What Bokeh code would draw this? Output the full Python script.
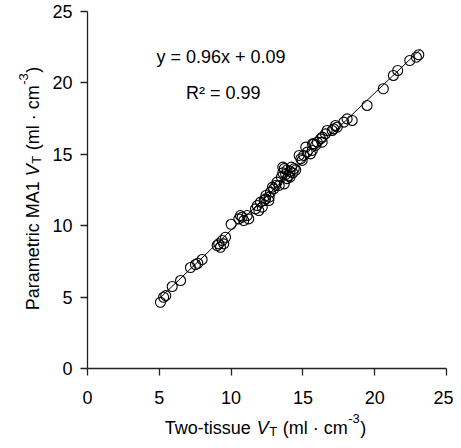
import math
from bokeh.plotting import figure
from bokeh.models import Range1d, Label, FixedTicker
from bokeh.embed import file_html
from bokeh.resources import INLINE

# ---- data ----
two_tissue_vt = [5.08, 5.30, 5.45, 5.90, 6.48, 7.17, 7.52, 7.68, 7.98,
                 9.03, 9.14, 9.26, 9.49, 9.38, 9.61, 10.00,
                 10.54, 10.65, 10.77, 10.88, 11.12, 11.23,
                 11.70, 11.82, 11.93, 12.05, 12.17,
                 12.30, 12.40, 12.42, 12.63, 12.65, 12.74, 12.88, 12.97, 13.11, 13.20, 13.35, 13.70,
                 13.50, 13.60, 13.70, 13.80, 13.90, 14.00, 14.10, 14.20, 14.30, 14.40, 14.50, 14.10, 13.60, 13.90,
                 14.74, 14.85, 14.95, 15.06, 15.20, 15.30, 15.53, 15.65, 15.67, 15.76, 15.88, 16.00,
                 16.23, 16.34, 16.36, 16.57, 16.69, 17.04, 17.15, 17.27, 17.39, 17.85, 18.08, 18.43,
                 19.47, 20.60, 21.30, 21.60, 22.44, 22.90, 23.07]
parametric_vt = [4.64, 4.99, 5.10, 5.74, 6.16, 7.07, 7.28, 7.37, 7.63,
                 8.61, 8.73, 8.49, 8.73, 8.96, 9.19, 10.10,
                 10.48, 10.71, 10.60, 10.36, 10.71, 10.48,
                 11.18, 11.41, 11.06, 11.65, 11.30,
                 11.76, 11.88, 12.11, 11.76, 12.00, 12.35, 12.70, 12.58, 12.82, 13.05, 12.82, 12.93,
                 13.40, 13.70, 14.00, 13.60, 13.90, 13.50, 13.80, 14.10, 13.70, 14.00, 13.90, 13.40, 14.10, 13.30,
                 14.92, 14.68, 14.57, 14.92, 15.50, 15.15, 15.03, 15.27, 15.73, 15.73, 15.62, 15.85,
                 16.08, 15.85, 16.20, 16.43, 16.67, 16.67, 16.78, 17.02, 16.90, 17.25, 17.48, 17.37,
                 18.42, 19.59, 20.52, 20.87, 21.57, 21.80, 21.97]
fit_slope = 0.96
fit_intercept = 0.09
fit_x = [5.0, 23.2]
fit_y = [fit_slope * v + fit_intercept for v in fit_x]
ticks = [0, 5, 10, 15, 20, 25]
axis_min, axis_max = 0, 25
eq_text = "y = 0.96x + 0.09"
r2_text = "R\u00b2 = 0.99"

FONT = "Liberation Sans"
W_PX, H_PX = 453, 440
# frame spans whole canvas; axes are fixed at data 0 and bounded to 0..25
LEFT, RIGHT, TOP, BOTTOM = 87, 446, 11, 368   # pixel positions of 0 and 25
sx = (RIGHT - LEFT) / (axis_max - axis_min)
sy = (BOTTOM - TOP) / (axis_max - axis_min)
x_range = Range1d(-LEFT / sx, axis_max + (W_PX - RIGHT) / sx)
y_range = Range1d(-(H_PX - BOTTOM) / sy, axis_max + TOP / sy)

p = figure(width=W_PX, height=H_PX, output_backend="svg", toolbar_location=None,
           x_range=x_range, y_range=y_range,
           min_border_left=0, min_border_right=0, min_border_top=0, min_border_bottom=0)
p.outline_line_color = None
p.xgrid.visible = False
p.ygrid.visible = False
p.background_fill_color = "white"
p.border_fill_color = "white"

for ax in (p.xaxis[0], p.yaxis[0]):
    ax.fixed_location = 0
    ax.bounds = (axis_min, axis_max)
    ax.ticker = FixedTicker(ticks=ticks)
    ax.major_tick_in = 0
    ax.major_tick_out = 7
    ax.minor_tick_out = 0
    ax.minor_tick_in = 0
    ax.axis_line_color = "#222222"
    ax.axis_line_width = 1.3
    ax.major_tick_line_color = "#222222"
    ax.major_tick_line_width = 1.3
    ax.major_label_text_font = FONT
    ax.major_label_text_font_size = "18px"
    ax.major_label_text_color = "black"
p.xaxis.major_label_standoff = 15
p.yaxis.major_label_standoff = 8

p.line(fit_x, fit_y, line_color="black", line_width=1)
p.scatter(two_tissue_vt, parametric_vt, marker="circle", size=10,
          fill_color=None, line_color="black", line_width=1.1)

p.add_layout(Label(x=9.3, y=21.78, text=eq_text, text_align="center", text_baseline="alphabetic",
                   text_font=FONT, text_font_size="18px", text_color="black"))
p.add_layout(Label(x=9.45, y=19.26, text=r2_text, text_align="center", text_baseline="alphabetic",
                   text_font=FONT, text_font_size="18px", text_color="black"))

# ---- axis titles composed of pieces (italic V, subscript T, superscript -3) ----
W = {" ": 278, "(": 333, ")": 333, "-": 333, "\u00b7": 278, "1": 556, "3": 556,
     "A": 667, "M": 833, "P": 667, "T": 611, "V": 667, "a": 556, "c": 500,
     "e": 556, "i": 222, "l": 222, "m": 833, "o": 556, "r": 333, "s": 500,
     "t": 278, "u": 556, "w": 722}
SPACE = 278 * 18 / 1000.0


def tw(s, size):
    return sum(W.get(c, 556) for c in s) * size / 1000.0


def title_pieces(lead):
    # (text, font px, style, baseline shift, gap before)
    return [(lead, 18, "normal", 0, 0), ("V", 18, "italic", 0, SPACE),
            ("T", 13, "normal", -4, 0.5), ("(ml \u00b7 cm", 18, "normal", 0, SPACE + 0.5),
            ("-3", 13, "normal", 9, 1.5), (")", 18, "normal", 0, 0.5)]


# x title: horizontal, baseline at canvas y = 427
pieces = title_pieces("Two-tissue")
total = sum(tw(s, f) + g for s, f, _, _, g in pieces)
pos = 265 - total / 2
base = H_PX - 427
for s, f, style, dy, g in pieces:
    pos += g
    p.add_layout(Label(x=pos, y=base + dy, x_units="screen", y_units="screen", text=s,
                       text_font=FONT, text_font_size=f"{f}px", text_font_style=style,
                       text_baseline="alphabetic", text_align="left", text_color="black"))
    pos += tw(s, f)

# y title: rotated, baseline at canvas x = 32
pieces = title_pieces("Parametric MA1")
total = sum(tw(s, f) + g for s, f, _, _, g in pieces)
pos = (H_PX - 188) - total / 2
for s, f, style, dy, g in pieces:
    pos += g
    p.add_layout(Label(x=32 - dy, y=pos, x_units="screen", y_units="screen", text=s,
                       angle=math.pi / 2,
                       text_font=FONT, text_font_size=f"{f}px", text_font_style=style,
                       text_baseline="alphabetic", text_align="left", text_color="black"))
    pos += tw(s, f)

open("out.html", "w").write(file_html(p, INLINE))
